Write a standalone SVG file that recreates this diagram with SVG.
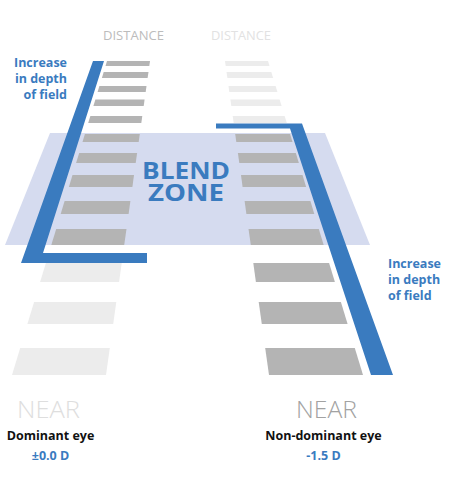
<svg xmlns="http://www.w3.org/2000/svg" width="451" height="500" viewBox="0 0 451 500">
<style>
.dk{fill:#b4b4b4}
.lt{fill:#ececec}
.blue{fill:#3a7bbf}
.zone{fill:#d5dbef}
.t{font-family:"Open Sans","Liberation Sans",sans-serif}
.lbl{font-size:12.5px;font-weight:bold;fill:#3a7bbf}
.dist{font-size:13px}
.near{font-size:23px;font-weight:300}
.eye{font-size:12.5px;font-weight:bold;fill:#111;text-anchor:middle}
.pow{font-size:12.5px;font-weight:bold;fill:#3a7bbf;text-anchor:middle}
.bz{font-size:23px;font-weight:bold;fill:#3a7bbf;text-anchor:middle}
</style>
<rect width="451" height="500" fill="#ffffff"/>
<g id="blend-zone">
<polygon class="zone" points="50,133 325,133 370,245 5,245"/>
<text class="t bz" x="186" y="179.3" textLength="88" lengthAdjust="spacingAndGlyphs">BLEND</text>
<text class="t bz" x="186" y="200.9" textLength="76" lengthAdjust="spacingAndGlyphs">ZONE</text>
</g>
<g id="left-ladder">
<polygon class="dk" points="107,61 150,61 149.3,66 105.5,66"/>
<polygon class="dk" points="103.7,72 148.5,72 147.6,78 101.9,78"/>
<polygon class="dk" points="99.4,86 146.5,86 145.7,92 97.6,92"/>
<polygon class="dk" points="95.4,99.5 144.6,99.5 143.7,106 93.4,106"/>
<polygon class="dk" points="90.4,116 142.3,116 141.3,123 88.2,123"/>
<polygon class="dk" points="84.9,134 139.8,134 138.7,142 82.5,142"/>
<polygon class="dk" points="79.2,153 137.1,153 135.7,163 76.1,163"/>
<polygon class="dk" points="72.5,175 134,175 132.4,187 68.9,187"/>
<polygon class="dk" points="64.6,201 130.4,201 128.6,214 60.7,214"/>
<polygon class="dk" points="56.2,229 126.5,229 124.2,245 51.3,245"/>
<polygon class="lt" points="45.9,263 121.7,263 119.1,282 40.1,282"/>
<polygon class="lt" points="34.1,302 116.3,302 113.2,324 27.4,324"/>
<polygon class="lt" points="20.2,348 109.8,348 106,375 12,375"/>
</g>
<g id="right-ladder">
<polygon class="lt" points="225,61 268,61 269.5,66 225.7,66"/>
<polygon class="lt" points="226.5,72 271.3,72 273.1,78 227.4,78"/>
<polygon class="lt" points="228.5,86 275.6,86 277.4,92 229.3,92"/>
<polygon class="lt" points="230.4,99.5 279.6,99.5 281.6,106 231.3,106"/>
<polygon class="lt" points="232.7,116 284.6,116 286.8,123 233.7,123"/>
<polygon class="dk" points="235.2,134 290.1,134 292.5,142 236.3,142"/>
<polygon class="dk" points="237.9,153 295.8,153 298.9,163 239.3,163"/>
<polygon class="dk" points="241,175 302.5,175 306.1,187 242.6,187"/>
<polygon class="dk" points="244.6,201 310.4,201 314.3,214 246.4,214"/>
<polygon class="dk" points="248.5,229 318.8,229 323.7,245 250.8,245"/>
<polygon class="dk" points="253.3,263 329.1,263 334.9,282 255.9,282"/>
<polygon class="dk" points="258.7,302 340.9,302 347.6,324 261.8,324"/>
<polygon class="dk" points="265.2,348 354.8,348 363,375 269,375"/>
</g>
<g id="connectors">
<polygon id="left-depth-bar" class="blue" points="93,61 104,61 43,253 147,253 147,263 21,263"/>
<polygon id="right-depth-bar" class="blue" points="216,123.5 302,123.5 393,375 371,375 290,128.5 216,128.5"/>
</g>
<g id="labels">
<text class="t dist" x="133.5" y="40" text-anchor="middle" fill="#bcbcbc" textLength="61" lengthAdjust="spacingAndGlyphs">DISTANCE</text>
<text class="t dist" x="241" y="40" text-anchor="middle" fill="#e2e2e2" textLength="60" lengthAdjust="spacingAndGlyphs">DISTANCE</text>
<text class="t lbl" text-anchor="end"><tspan x="67" y="67.3">Increase</tspan><tspan x="67" y="83.3">in depth</tspan><tspan x="67" y="99.3">of field</tspan></text>
<text class="t lbl"><tspan x="388" y="268.3">Increase</tspan><tspan x="388" y="284.3">in depth</tspan><tspan x="388" y="300.3">of field</tspan></text>
<text class="t near" x="48.5" y="418.3" text-anchor="middle" fill="#dedede" textLength="63" lengthAdjust="spacingAndGlyphs">NEAR</text>
<text class="t near" x="326.5" y="418.3" text-anchor="middle" fill="#a2a2a2" textLength="61" lengthAdjust="spacingAndGlyphs">NEAR</text>
<text class="t eye" x="50.5" y="440">Dominant eye</text>
<text class="t pow" x="50.5" y="460">±0.0 D</text>
<text class="t eye" x="323.5" y="440">Non-dominant eye</text>
<text class="t pow" x="323.5" y="460">-1.5 D</text>
</g>
</svg>
